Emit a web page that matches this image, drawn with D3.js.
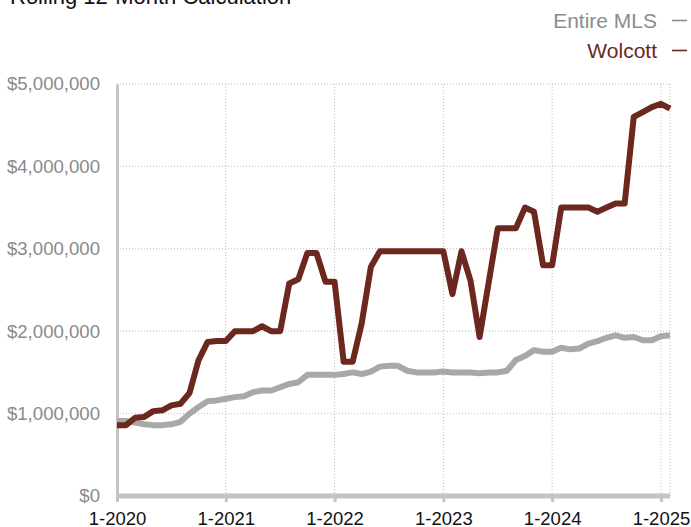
<!DOCTYPE html>
<html>
<head>
<meta charset="utf-8">
<script src="https://cdn.jsdelivr.net/npm/d3@7"></script>
<style>
  body { margin: 0; background: #fff; }
  text { font-family: "Helvetica Neue", Helvetica, Arial, "Liberation Sans", sans-serif; }
</style>
</head>
<body>
<svg id="chart" width="691" height="527"></svg>
<script>
// monthly, 1-2020 .. 2-2025 (rolling 12 month median price)
var months = d3.range(62);
var yearTicks = [0, 12, 24, 36, 48, 60];
var yearLabels = ["1-2020", "1-2021", "1-2022", "1-2023", "1-2024", "1-2025"];
var yTicks = [0, 1000000, 2000000, 3000000, 4000000, 5000000];

var entireMLS = [
  910000, 910000, 890000, 870000, 860000, 860000, 870000, 900000, 1000000, 1080000,
  1150000, 1160000, 1180000, 1200000, 1210000, 1260000, 1280000, 1280000, 1320000, 1360000,
  1380000, 1470000, 1470000, 1470000, 1470000, 1480000, 1500000, 1480000, 1510000, 1570000,
  1580000, 1580000, 1520000, 1500000, 1500000, 1500000, 1510000, 1500000, 1500000, 1500000,
  1490000, 1500000, 1500000, 1520000, 1650000, 1700000, 1770000, 1750000, 1750000, 1800000,
  1780000, 1790000, 1850000, 1880000, 1920000, 1950000, 1920000, 1930000, 1890000, 1890000,
  1940000, 1950000
];
var wolcott = [
  860000, 860000, 950000, 960000, 1030000, 1040000, 1100000, 1120000, 1250000, 1650000,
  1870000, 1880000, 1880000, 2000000, 2000000, 2000000, 2060000, 2000000, 2000000, 2580000,
  2630000, 2950000, 2950000, 2600000, 2600000, 1630000, 1630000, 2100000, 2780000, 2970000,
  2970000, 2970000, 2970000, 2970000, 2970000, 2970000, 2970000, 2450000, 2970000, 2610000,
  1930000, 2590000, 3250000, 3250000, 3250000, 3500000, 3450000, 2800000, 2800000, 3500000,
  3500000, 3500000, 3500000, 3450000, 3500000, 3550000, 3550000, 4600000, 4660000, 4720000,
  4760000, 4700000
];
var seriesNames = ["Entire MLS", "Wolcott"];
var seriesColors = ["#a8a8a8", "#6c271f"];

var svg = d3.select("#chart");
var pLeft = 117, pRight = 670, pTop = 84, pBottom = 496;

var x = d3.scaleLinear().domain([0, 61]).range([pLeft, pRight]);
var y = d3.scaleLinear().domain([0, 5000000]).range([pBottom, pTop]);

// title (partly off the top edge)
svg.append("text")
  .attr("x", 10).attr("y", 4)
  .style("font-size", "22px").attr("fill", "#111")
  .text("Rolling 12-Month Calculation");

// gridlines
var grid = svg.append("g");
grid.selectAll("line.h").data(yTicks.slice(1)).enter().append("line")
  .attr("x1", pLeft).attr("x2", pRight)
  .attr("y1", function(d){ return y(d); }).attr("y2", function(d){ return y(d); })
  .attr("stroke", "#bdbdbd").attr("stroke-width", 1).attr("stroke-dasharray", "1,2");
grid.selectAll("line.v").data(yearTicks.slice(1).concat([61])).enter().append("line")
  .attr("x1", function(d){ return x(d); }).attr("x2", function(d){ return x(d); })
  .attr("y1", pTop).attr("y2", pBottom)
  .attr("stroke", "#bdbdbd").attr("stroke-width", 1).attr("stroke-dasharray", "1,2");

// y axis
var yAxis = d3.axisLeft(y).tickValues(yTicks).tickSize(0).tickPadding(17)
  .tickFormat(function(d){ return "$" + d3.format(",")(d); });
var gy = svg.append("g").attr("transform", "translate(" + pLeft + ",0)").call(yAxis);
gy.select(".domain").attr("stroke", "#c4c4c4").attr("stroke-width", 3);
gy.selectAll("text").style("font-size", "18.6px").attr("fill", "#8a8a8a");

// x axis
var xAxis = d3.axisBottom(x).tickValues(yearTicks).tickSize(6).tickPadding(10)
  .tickFormat(function(d, i){ return yearLabels[i]; });
var gx = svg.append("g").attr("transform", "translate(0," + pBottom + ")").call(xAxis);
gx.select(".domain").attr("d", "M" + pLeft + ",0H" + pRight)
  .attr("stroke", "#c4c4c4").attr("stroke-width", 5);
gx.selectAll(".tick line").attr("stroke", "#c4c4c4").attr("stroke-width", 3);
gx.selectAll("text").style("font-size", "18.5px").attr("fill", "#111");

// lines
var line = d3.line()
  .x(function(d, i){ return x(months[i]); })
  .y(function(d){ return y(d); });

[entireMLS, wolcott].forEach(function(s, k){
  svg.append("path")
    .datum(s)
    .attr("d", line)
    .attr("fill", "none")
    .attr("stroke", seriesColors[k])
    .attr("stroke-width", 6)
    .attr("stroke-linejoin", "round");
});

// legend
var leg = svg.append("g");
seriesNames.forEach(function(name, k){
  var yy = 28 + k * 30;
  leg.append("text")
    .attr("x", 657).attr("y", yy)
    .attr("text-anchor", "end")
    .style("font-size", "21px")
    .attr("fill", k == 0 ? "#8c8c8c" : seriesColors[1])
    .text(name);
  leg.append("line")
    .attr("x1", 672).attr("x2", 687)
    .attr("y1", yy - 7.5).attr("y2", yy - 7.5)
    .attr("stroke", k == 0 ? "#8c8c8c" : seriesColors[1])
    .attr("stroke-width", 1.6);
});
</script>
</body>
</html>
